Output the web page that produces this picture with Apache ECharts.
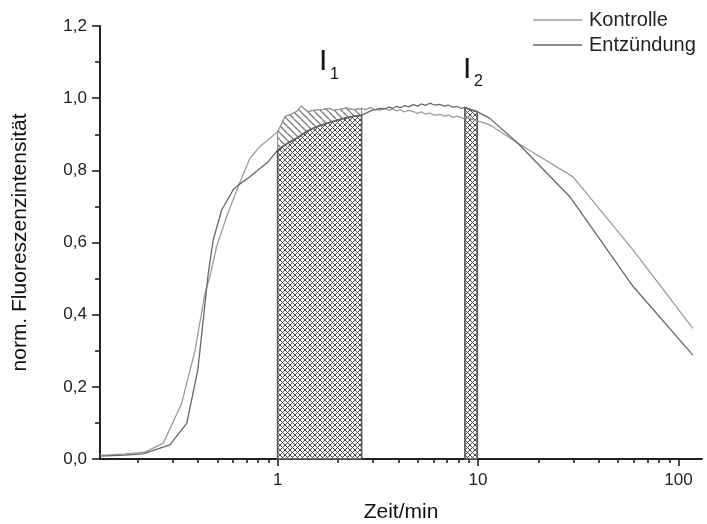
<!DOCTYPE html>
<html><head><meta charset="utf-8">
<script src="https://cdn.jsdelivr.net/npm/echarts@6/dist/echarts.min.js"></script>
<style>html,body{margin:0;padding:0;background:#fff}#c{width:707px;height:524px}</style>
</head><body><div id="c"></div>
<script>
// ---- data (time in min, normalized intensity) ----
const kontrolle = [[0.13,0.010],[0.173,0.014],[0.218,0.019],[0.269,0.044],[0.332,0.154],[0.387,0.300],[0.434,0.459],[0.459,0.505],[0.496,0.588],[0.557,0.672],[0.636,0.755],[0.727,0.833],[0.816,0.866],[0.915,0.889],[1.0,0.907],[1.04,0.925],[1.087,0.949],[1.16,0.955],[1.244,0.963],[1.28,0.972],[1.317,0.978],[1.36,0.970],[1.42,0.963],[1.5,0.966],[1.6,0.968],[1.688,0.969],[1.8,0.972],[1.9,0.967],[2.045,0.969],[2.2,0.973],[2.4,0.968],[2.624,0.972],[2.75,0.968],[2.9,0.974],[3.05,0.969],[3.24,0.967],[3.4,0.972],[3.6,0.966],[3.75,0.970],[3.92,0.965],[4.1,0.968],[4.3,0.962],[4.5,0.966],[4.75,0.963],[5.0,0.958],[5.2,0.962],[5.45,0.956],[5.75,0.959],[6.05,0.953],[6.45,0.955],[6.8,0.950],[7.1,0.953],[7.5,0.947],[7.9,0.950],[8.43,0.944],[8.9,0.947],[9.4,0.941],[10.2,0.935],[11.0,0.930],[11.85,0.921],[15.8,0.875],[29.8,0.782],[59.4,0.579],[118,0.362]];
const entzuendung = [[0.13,0.008],[0.173,0.011],[0.213,0.014],[0.290,0.039],[0.352,0.099],[0.400,0.247],[0.451,0.515],[0.477,0.607],[0.526,0.690],[0.600,0.746],[0.636,0.759],[0.727,0.782],[0.898,0.824],[1.0,0.856],[1.1,0.872],[1.244,0.889],[1.4,0.908],[1.565,0.921],[1.8,0.932],[2.045,0.941],[2.3,0.948],[2.624,0.953],[2.8,0.960],[2.95,0.966],[3.1,0.968],[3.24,0.972],[3.4,0.970],[3.6,0.975],[3.75,0.972],[3.92,0.977],[4.1,0.974],[4.3,0.979],[4.5,0.976],[4.75,0.982],[5.0,0.978],[5.2,0.984],[5.45,0.980],[5.75,0.986],[6.05,0.981],[6.45,0.983],[6.8,0.978],[7.1,0.981],[7.5,0.975],[7.9,0.977],[8.2,0.972],[8.6,0.974],[9.2,0.968],[9.9,0.963],[10.5,0.955],[11.45,0.944],[15.8,0.875],[28.7,0.727],[59.4,0.478],[118,0.288]];
const regionI1 = [1, 2.624];
const regionI2 = [8.6, 9.9];
const xMajorTicks = [1, 10, 100];
const xMinorTicks = [0.2,0.3,0.4,0.5,0.6,0.7,0.8,0.9,2,3,4,5,6,7,8,9,20,30,40,50,60,70,80,90];
const seriesNames = ['Kontrolle', 'Entzündung'];
const axisNames = ['Zeit/min', 'norm. Fluoreszenzintensität'];

const FONT = '"Liberation Sans", Arial, Helvetica, sans-serif';
const AX = '#222';

function makePattern(size, draw) {
  const c = document.createElement('canvas');
  c.width = size; c.height = size;
  const g = c.getContext('2d');
  draw(g, size);
  return { image: c, repeat: 'repeat' };
}
const crossPattern = makePattern(5, (g, s) => {
  g.fillStyle = '#fff'; g.fillRect(0, 0, s, s);
  g.strokeStyle = '#4a4a4a'; g.lineWidth = 1;
  for (let k = -1; k <= 1; k++) {
    g.beginPath(); g.moveTo(k * s, 0); g.lineTo(k * s + s, s); g.stroke();
    g.beginPath(); g.moveTo(k * s, s); g.lineTo(k * s + s, 0); g.stroke();
  }
});
const diagPattern = makePattern(7, (g, s) => {
  g.clearRect(0, 0, s, s);
  g.strokeStyle = '#7a7a7a'; g.lineWidth = 1.3;
  for (let k = -1; k <= 1; k++) {
    g.beginPath(); g.moveTo(k * s, 0); g.lineTo(k * s + s, s); g.stroke();
  }
});

function slice(curve, lo, hi) {
  return curve.filter(p => p[0] >= lo - 1e-9 && p[0] <= hi + 1e-9);
}
function crossRender(curve) {
  return function (params, api) {
    const lo = api.value(0), hi = api.value(1);
    const pts = slice(curve, lo, hi).map(p => api.coord(p));
    pts.push(api.coord([hi, 0]));
    pts.push(api.coord([lo, 0]));
    return { type: 'polygon', shape: { points: pts },
      style: { fill: crossPattern, stroke: '#555', lineWidth: 1.6 } };
  };
}
function diagRender(params, api) {
  const lo = api.value(0), hi = api.value(1);
  const up = slice(kontrolle, lo, hi).map(p => api.coord(p));
  const dn = slice(entzuendung, lo, hi).map(p => api.coord(p)).reverse();
  return { type: 'polygon', shape: { points: up.concat(dn) },
    style: { fill: diagPattern, stroke: '#8a8a8a', lineWidth: 1 } };
}

const chart = echarts.init(document.getElementById('c'), null, { renderer: 'canvas' });
const tickStyle = { color: AX, width: 1.6 };
chart.setOption({
  animation: false,
  backgroundColor: '#fff',
  textStyle: { fontFamily: FONT },
  grid: { left: 100, right: 5, top: 26, bottom: 65, containLabel: false, outerBoundsMode: 'none' },
  legend: {
    data: seriesNames, orient: 'vertical', left: 533, top: 10, padding: 0,
    icon: 'rect', itemWidth: 49, itemHeight: 1.5, itemGap: 5,
    textStyle: { fontSize: 20, color: '#222', fontFamily: FONT, lineHeight: 20, padding: [0, 0, 0, 2] }
  },
  xAxis: [{
    type: 'log', logBase: 10, min: 0.13, max: 131, position: 'bottom',
    name: axisNames[0], nameLocation: 'middle', nameGap: 43,
    nameTextStyle: { fontSize: 21, color: '#111', fontFamily: FONT },
    axisLine: { show: true, onZero: false, lineStyle: { color: AX, width: 2 } },
    axisTick: { show: true, customValues: xMajorTicks, length: 7, lineStyle: tickStyle },
    axisLabel: { customValues: xMajorTicks, fontSize: 17, color: AX, margin: 13, fontFamily: FONT,
      formatter: v => String(Math.round(v)) },
    splitLine: { show: false }, minorTick: { show: false }, minorSplitLine: { show: false }
  }, {
    type: 'log', logBase: 10, min: 0.13, max: 131, position: 'bottom',
    axisLine: { show: false, onZero: false },
    axisTick: { show: true, customValues: xMinorTicks, length: 4, lineStyle: tickStyle },
    axisLabel: { show: false }, splitLine: { show: false }
  }],
  yAxis: {
    type: 'value', min: 0, max: 1.2, interval: 0.2,
    name: axisNames[1], nameLocation: 'middle', nameGap: 69, nameRotate: 90,
    nameTextStyle: { fontSize: 21, color: '#111', fontFamily: FONT },
    axisLine: { show: true, lineStyle: { color: AX, width: 2 } },
    axisTick: { show: true, length: 8, lineStyle: tickStyle },
    minorTick: { show: true, splitNumber: 2, length: 5, lineStyle: tickStyle },
    axisLabel: { fontSize: 17, color: AX, margin: 13, fontFamily: FONT,
      formatter: v => v.toFixed(1).replace('.', ',') },
    splitLine: { show: false }
  },
  graphic: [
    { type: 'text', left: 319, top: 47, style: { text: 'I', fontSize: 30, fill: '#111', fontFamily: FONT } },
    { type: 'text', left: 330, top: 67, style: { text: '1', fontSize: 16, fill: '#111', fontFamily: FONT } },
    { type: 'text', left: 463, top: 55, style: { text: 'I', fontSize: 30, fill: '#111', fontFamily: FONT } },
    { type: 'text', left: 474, top: 74, style: { text: '2', fontSize: 16, fill: '#111', fontFamily: FONT } }
  ],
  series: [
    { type: 'custom', name: 'I1diag', data: [regionI1], encode: { x: [0, 1] }, renderItem: diagRender, z: 1, silent: true },
    { type: 'custom', name: 'I1', data: [regionI1], encode: { x: [0, 1] }, renderItem: crossRender(entzuendung), z: 1, silent: true },
    { type: 'custom', name: 'I2', data: [regionI2], encode: { x: [0, 1] }, renderItem: crossRender(entzuendung), z: 1, silent: true },
    { type: 'line', name: seriesNames[0], data: kontrolle, symbol: 'none', z: 3,
      lineStyle: { color: '#9c9c9c', width: 1.3 }, itemStyle: { color: '#9c9c9c' } },
    { type: 'line', name: seriesNames[1], data: entzuendung, symbol: 'none', z: 3,
      lineStyle: { color: '#666', width: 1.3 }, itemStyle: { color: '#666' } }
  ]
});
</script></body></html>
